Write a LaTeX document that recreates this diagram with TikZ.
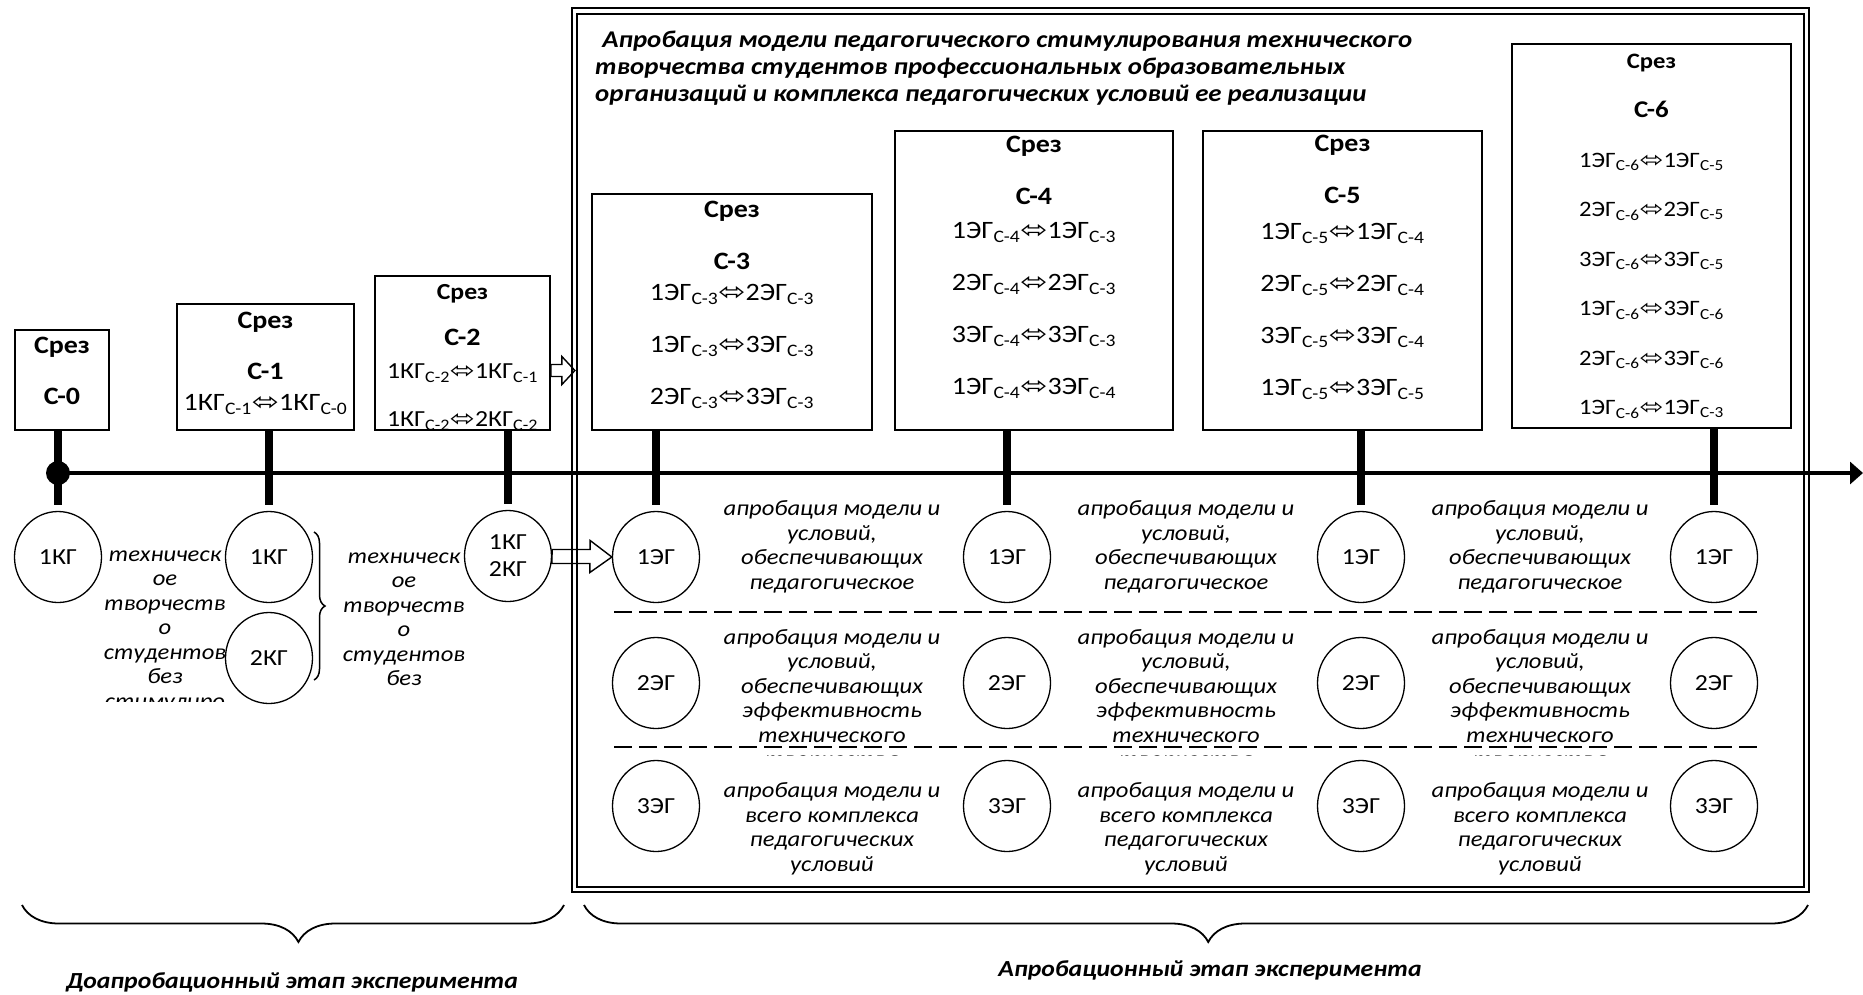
\documentclass[tikz,border=0pt]{standalone}
\usepackage{fontspec}
\usepackage{graphicx}
\setmainfont{Carlito}[FakeStretch=1.12]
\newfontfamily\arrowfont{DejaVu Sans}
\usetikzlibrary{positioning,arrows.meta,shapes.geometric,decorations.pathreplacing}

\newcommand{\srel}[4]{#1\textsubscript{#2}\scalebox{1.3}[1]{\arrowfont ⬄}#3\textsubscript{#4}}

\begin{document}
\begin{tikzpicture}[x=1pt, y=-1pt,
    srez/.style={rectangle, draw, line width=1.8pt, inner sep=0pt},
    srezt/.style={align=center, inner sep=0pt},
    grp/.style={ellipse, draw, line width=1.3pt, inner sep=0pt, minimum width=87pt, minimum height=91pt, align=center, font=\fontsize{23}{27}\selectfont},
    note/.style={align=center, inner sep=0pt, font=\itshape\fontsize{22}{24.5}\selectfont},
    stage/.style={inner sep=0pt, font=\bfseries\itshape\fontsize{23}{27}\selectfont},
    stem/.style={line width=8pt},
    timeline/.style={line width=4.5pt, -{Triangle[length=13pt, width=22pt]}},
    dot/.style={circle, fill, inner sep=0pt, minimum size=24pt},
    blockarr/.style={draw, line width=1.4pt, line join=miter},
    rowline/.style={line width=2.4pt, dash pattern=on 18pt off 7pt},
    outerframe/.style={double, double distance=3.5pt, line width=1.8pt},
    stagebrace/.style={decorate, decoration={brace, mirror, amplitude=37pt, aspect=0.51}, line width=1.8pt},
    grpbrace/.style={decorate, decoration={brace, amplitude=11pt}, line width=1.5pt},
    ]
    \useasboundingbox (0,0) rectangle (1863,994);

      %Frame
      \draw[outerframe] (574.5,11) rectangle (1806.5,889.5);
      \node      (title)  [anchor=west, align=left, inner sep=0pt, font=\bfseries\itshape\fontsize{24}{27}\selectfont] at (595,68)
        {\hspace*{0.3em}Апробация модели педагогического стимулирования технического\\творчества студентов профессиональных образовательных\\организаций и комплекса педагогических условий ее реализации};

      %Srez boxes
      \node      (s0)     [srez, minimum width=94pt, minimum height=100pt]  at (62,380)      {};
      \node      (s1)     [srez, minimum width=177pt, minimum height=126pt] at (265.5,367)   {};
      \node      (s2)     [srez, minimum width=175pt, minimum height=154pt] at (462.5,353)   {};
      \node      (s3)     [srez, minimum width=280pt, minimum height=236pt] at (732,312)     {};
      \node      (s4)     [srez, minimum width=278pt, minimum height=299pt] at (1034,280.5)  {};
      \node      (s5)     [srez, minimum width=279pt, minimum height=299pt] at (1342.5,280.5){};
      \node      (s6)     [srez, minimum width=279pt, minimum height=384pt] at (1651.5,236)  {};

      \node      (s0t)    [srezt, font=\fontsize{25}{51}\selectfont] at (62,370.5)
        {{\bfseries Срез}\\{\fontsize{25}{51}\selectfont\bfseries С-0}};
      \node      (s1t)    [srezt, font=\fontsize{25}{51}\selectfont] at (265.5,363)
        {{\bfseries Срез}\\{\fontsize{25}{51}\selectfont\bfseries С-1}\\[-20pt]\srel{1КГ}{С-1}{1КГ}{С-0}};
      \node      (s2t)    [srezt, font=\fontsize{23}{48}\selectfont] at (462.5,357.5)
        {{\bfseries Срез}\\[-2pt]{\fontsize{25}{48}\selectfont\bfseries С-2}\\[-15pt]\srel{1КГ}{С-2}{1КГ}{С-1}\\\srel{1КГ}{С-2}{2КГ}{С-2}};
      \node      (s3t)    [srezt, font=\fontsize{25}{52}\selectfont] at (732,305)
        {{\bfseries Срез}\\{\fontsize{25}{52}\selectfont\bfseries С-3}\\[-21pt]\srel{1ЭГ}{С-3}{2ЭГ}{С-3}\\\srel{1ЭГ}{С-3}{3ЭГ}{С-3}\\\srel{2ЭГ}{С-3}{3ЭГ}{С-3}};
      \node      (s4t)    [srezt, font=\fontsize{25}{52}\selectfont] at (1034,267.5)
        {{\bfseries Срез}\\{\fontsize{25}{52}\selectfont\bfseries С-4}\\[-18pt]\srel{1ЭГ}{С-4}{1ЭГ}{С-3}\\\srel{2ЭГ}{С-4}{2ЭГ}{С-3}\\\srel{3ЭГ}{С-4}{3ЭГ}{С-3}\\\srel{1ЭГ}{С-4}{3ЭГ}{С-4}};
      \node      (s5t)    [srezt, font=\fontsize{25}{52}\selectfont] at (1342.5,267.5)
        {{\bfseries Срез}\\{\fontsize{25}{52}\selectfont\bfseries С-5}\\[-16pt]\srel{1ЭГ}{С-5}{1ЭГ}{С-4}\\\srel{2ЭГ}{С-5}{2ЭГ}{С-4}\\\srel{3ЭГ}{С-5}{3ЭГ}{С-4}\\\srel{1ЭГ}{С-5}{3ЭГ}{С-5}};
      \node      (s6t)    [srezt, font=\fontsize{22}{49.5}\selectfont] at (1651.5,236)
        {{\bfseries Срез}\\{\fontsize{24}{49.5}\selectfont\bfseries С-6}\\\srel{1ЭГ}{С-6}{1ЭГ}{С-5}\\\srel{2ЭГ}{С-6}{2ЭГ}{С-5}\\\srel{3ЭГ}{С-6}{3ЭГ}{С-5}\\\srel{1ЭГ}{С-6}{3ЭГ}{С-6}\\\srel{2ЭГ}{С-6}{3ЭГ}{С-6}\\\srel{1ЭГ}{С-6}{1ЭГ}{С-3}};

      %Groups
      \node      (k0)     [grp] at (58,557)   {1КГ};
      \node      (k1)     [grp] at (269,557)  {1КГ};
      \node      (k2)     [grp] at (269,658)  {2КГ};
      \node      (k12)    [grp] at (508,556)  {1КГ\\2КГ};
      \foreach \x [count=\i] in {656,1007,1361,1714} {
        \node    (e1\i)   [grp] at (\x,557)   {1ЭГ};
        \node    (e2\i)   [grp] at (\x,683)   {2ЭГ};
        \node    (e3\i)   [grp] at (\x,806)   {3ЭГ};
      }

      %Notes
      \begin{scope}
        \clip (90,530) rectangle (250,701);
        \node    (nt1)    [note] at (165,631) {техническ\\ое\\творчеств\\о\\студентов\\без\\стимулиро};
      \end{scope}
      \node      (nt2)    [note] at (404,619) {техническ\\ое\\творчеств\\о\\студентов\\без};
      \foreach \x [count=\i] in {832,1186,1540} {
        \node    (n1\i)   [note] at (\x,547)  {апробация модели и\\условий,\\обеспечивающих\\педагогическое};
        \begin{scope}
          \clip (\x-130,615) rectangle (\x+130,755);
          \node  (n2\i)   [note] at (\x,700)  {апробация модели и\\условий,\\обеспечивающих\\эффективность\\технического\\творчества};
        \end{scope}
        \node    (n3\i)   [note] at (\x,829)  {апробация модели и\\всего комплекса\\педагогических\\условий};
      }

      %Lines
      \coordinate (tl)  at (1863,473);
      \coordinate (ra1) at (614,612);
      \coordinate (rb1) at (1757,612);
      \coordinate (ra2) at (614,747);
      \coordinate (rb2) at (1757,747);
      \draw[rowline] (ra1) -- (rb1);
      \draw[rowline] (ra2) -- (rb2);

      \draw[stem] (s0.south -| k0.north)  -- ([yshift=6pt]k0.north);
      \draw[stem] (s1.south -| k1.north)  -- ([yshift=6pt]k1.north);
      \draw[stem] (s2.south -| k12.north) -- ([yshift=6pt]k12.north);
      \draw[stem] (s3.south -| e11.north) -- ([yshift=6pt]e11.north);
      \draw[stem] (s4.south -| e12.north) -- ([yshift=6pt]e12.north);
      \draw[stem] (s5.south -| e13.north) -- ([yshift=6pt]e13.north);
      \draw[stem] (s6.south -| e14.north) -- ([yshift=6pt]e14.north);

      \node      (d0)     [dot] at (58,473) {};
      \draw[timeline] (d0.center) -- (tl);

      \draw[blockarr] (s2.east) ++(0,11.5) -- ++(11,0) -- ++(0,-8) -- ++(13,14) -- ++(-13,14) -- ++(0,-8) -- ++(-11,0) -- cycle;
      \draw[blockarr] (k12.east) ++(0,-6.5) -- ++(38,0) -- ++(0,-9) -- (e11.west) -- ++(-22,15.5) -- ++(0,-9) -- ++(-38,0) -- cycle;

      \coordinate (bk1) at (314,532);
      \coordinate (bk2) at (314,680);
      \draw[grpbrace] (bk1) -- (bk2);

      %Stages
      \coordinate (ba1) at (22,905);
      \coordinate (bb1) at (564,905);
      \coordinate (ba2) at (584,905);
      \coordinate (bb2) at (1808,905);
      \draw[stagebrace] (ba1) -- (bb1);
      \draw[stagebrace] (ba2) -- (bb2);
      \node      (st1)    [stage] at (292,982)  {Доапробационный этап эксперимента};
      \node      (st2)    [stage] at (1210,970) {Апробационный этап эксперимента};
\end{tikzpicture}
\end{document}
